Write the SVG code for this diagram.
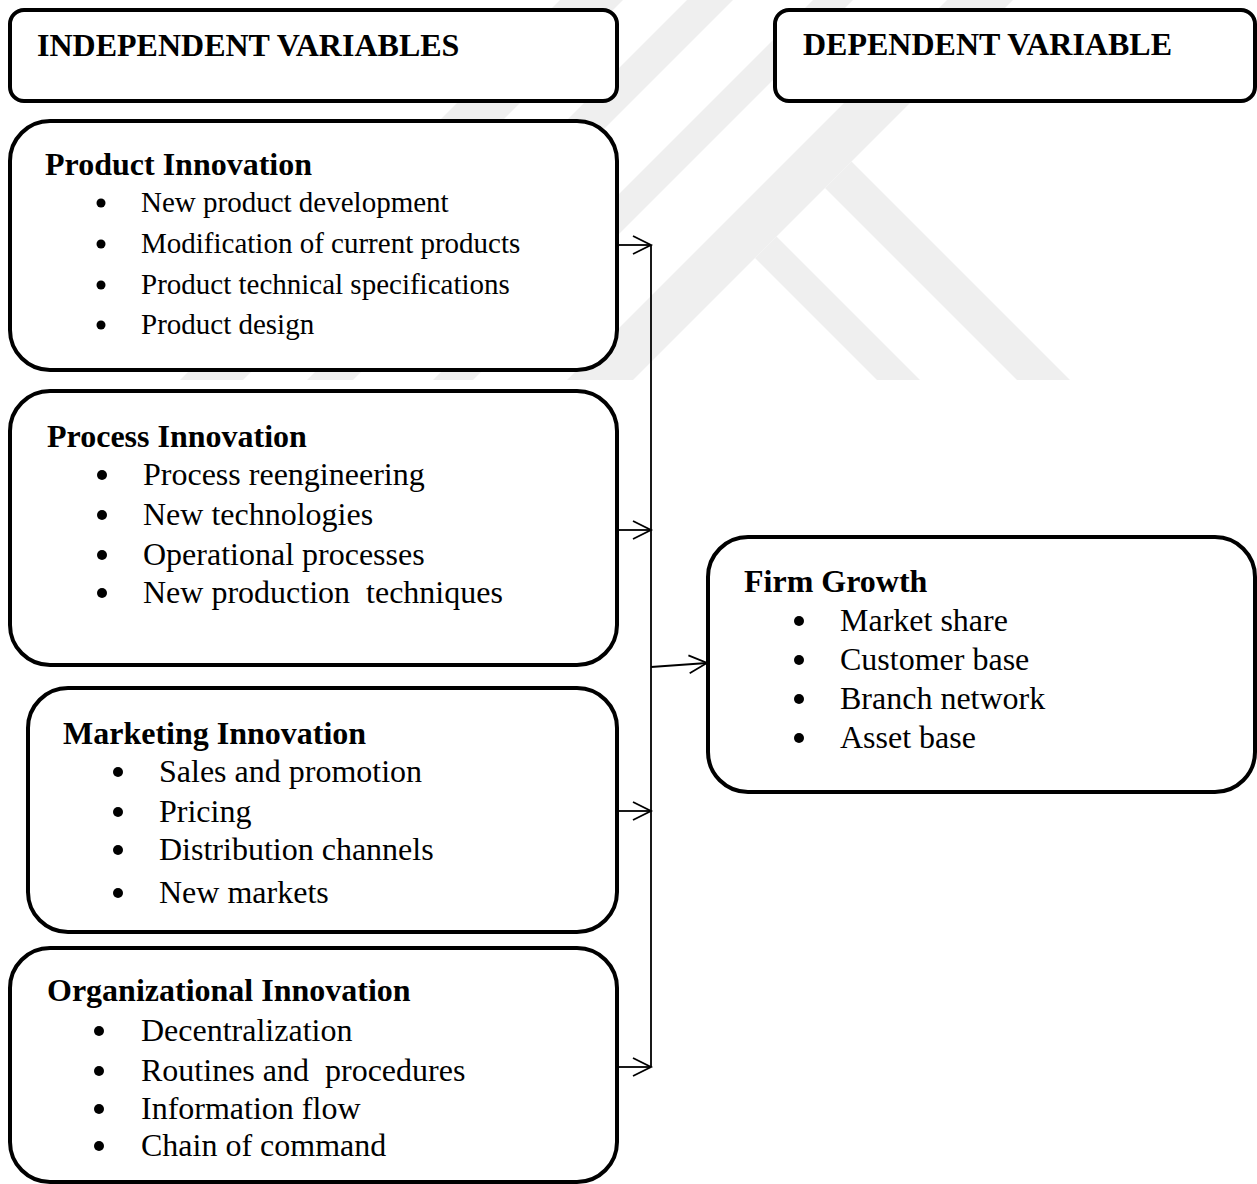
<svg xmlns="http://www.w3.org/2000/svg" width="1257" height="1184" viewBox="0 0 1257 1184">
<style>
.box{fill:#ffffff;stroke:#000000;stroke-width:4}
.t{font-family:"Liberation Serif","Times New Roman",serif;font-size:32px;fill:#000000}
.b{font-weight:bold}
.s{font-size:29px}
.dot{fill:#000000}
.wm{fill:#efefef}
.con{stroke:#000000;stroke-width:1.8;fill:none}
</style>
<defs>
<marker id="arr" viewBox="0 0 18 18" refX="18" refY="9" markerWidth="18" markerHeight="18" markerUnits="userSpaceOnUse" orient="auto" overflow="visible">
<path d="M0,0 L18,9 L0,18" fill="none" stroke="#000000" stroke-width="1.8"/>
</marker>
</defs>
<rect width="1257" height="1184" fill="#ffffff"/>
<g id="watermark">
<polygon class="wm" points="180,380 243,380 623,0 560,0"/>
<polygon class="wm" points="307,380 353,380 733,0 687,0"/>
<polygon class="wm" points="433,380 473,380 853,0 813,0"/>
<polygon class="wm" points="567,380 633,380 1013,0 947,0"/>
<polygon class="wm" points="755,258 776.5,236.5 920,380 877,380"/>
<polygon class="wm" points="825,188 851.5,161.5 1070,380 1017,380"/>
</g>
<g id="independent-header">
<rect class="box" x="10" y="10" width="607" height="91" rx="14"/>
<text class="t b" x="37" y="56">INDEPENDENT VARIABLES</text>
</g>
<g id="dependent-header">
<rect class="box" x="775" y="10" width="480" height="91" rx="14"/>
<text class="t b" x="803" y="55">DEPENDENT VARIABLE</text>
</g>
<g id="product-innovation">
<rect class="box" x="10" y="121" width="607" height="249" rx="40"/>
<text class="t b" x="45" y="175">Product Innovation</text>
<circle class="dot" cx="101" cy="203" r="4.5"/><text class="t s" x="141" y="212">New product development</text>
<circle class="dot" cx="101" cy="244" r="4.5"/><text class="t s" x="141" y="253">Modification of current products</text>
<circle class="dot" cx="101" cy="285" r="4.5"/><text class="t s" x="141" y="294">Product technical specifications</text>
<circle class="dot" cx="101" cy="325" r="4.5"/><text class="t s" x="141" y="334">Product design</text>
</g>
<g id="process-innovation">
<rect class="box" x="10" y="391" width="607" height="274" rx="40"/>
<text class="t b" x="47" y="447">Process Innovation</text>
<circle class="dot" cx="102" cy="475" r="5"/><text class="t" x="143" y="485">Process reengineering</text>
<circle class="dot" cx="102" cy="515" r="5"/><text class="t" x="143" y="525">New technologies</text>
<circle class="dot" cx="102" cy="555" r="5"/><text class="t" x="143" y="565">Operational processes</text>
<circle class="dot" cx="102" cy="593" r="5"/><text class="t" x="143" y="603">New production&#160; techniques</text>
</g>
<g id="marketing-innovation">
<rect class="box" x="28" y="688" width="589" height="244" rx="40"/>
<text class="t b" x="63" y="744">Marketing Innovation</text>
<circle class="dot" cx="118" cy="772" r="5"/><text class="t" x="159" y="782">Sales and promotion</text>
<circle class="dot" cx="118" cy="812" r="5"/><text class="t" x="159" y="822">Pricing</text>
<circle class="dot" cx="118" cy="850" r="5"/><text class="t" x="159" y="860">Distribution channels</text>
<circle class="dot" cx="118" cy="893" r="5"/><text class="t" x="159" y="903">New markets</text>
</g>
<g id="organizational-innovation">
<rect class="box" x="10" y="948" width="607" height="234" rx="40"/>
<text class="t b" x="47" y="1001">Organizational Innovation</text>
<circle class="dot" cx="99" cy="1031" r="5"/><text class="t" x="141" y="1041">Decentralization</text>
<circle class="dot" cx="99" cy="1071" r="5"/><text class="t" x="141" y="1081">Routines and&#160; procedures</text>
<circle class="dot" cx="99" cy="1109" r="5"/><text class="t" x="141" y="1119">Information flow</text>
<circle class="dot" cx="99" cy="1146" r="5"/><text class="t" x="141" y="1156">Chain of command</text>
</g>
<g id="firm-growth">
<rect class="box" x="708" y="537" width="547" height="255" rx="40"/>
<text class="t b" x="744" y="592">Firm Growth</text>
<circle class="dot" cx="799" cy="621" r="5"/><text class="t" x="840" y="631">Market share</text>
<circle class="dot" cx="799" cy="660" r="5"/><text class="t" x="840" y="670">Customer base</text>
<circle class="dot" cx="799" cy="699" r="5"/><text class="t" x="840" y="709">Branch network</text>
<circle class="dot" cx="799" cy="738" r="5"/><text class="t" x="840" y="748">Asset base</text>
</g>
<g id="connectors">
<path class="con" d="M651,245 V1067"/>
<path class="con" d="M619,245 H651" marker-end="url(#arr)"/>
<path class="con" d="M619,530 H651" marker-end="url(#arr)"/>
<path class="con" d="M619,811 H651" marker-end="url(#arr)"/>
<path class="con" d="M619,1067 H651" marker-end="url(#arr)"/>
<path class="con" d="M651,667 L707,663" marker-end="url(#arr)"/>
</g>
</svg>
